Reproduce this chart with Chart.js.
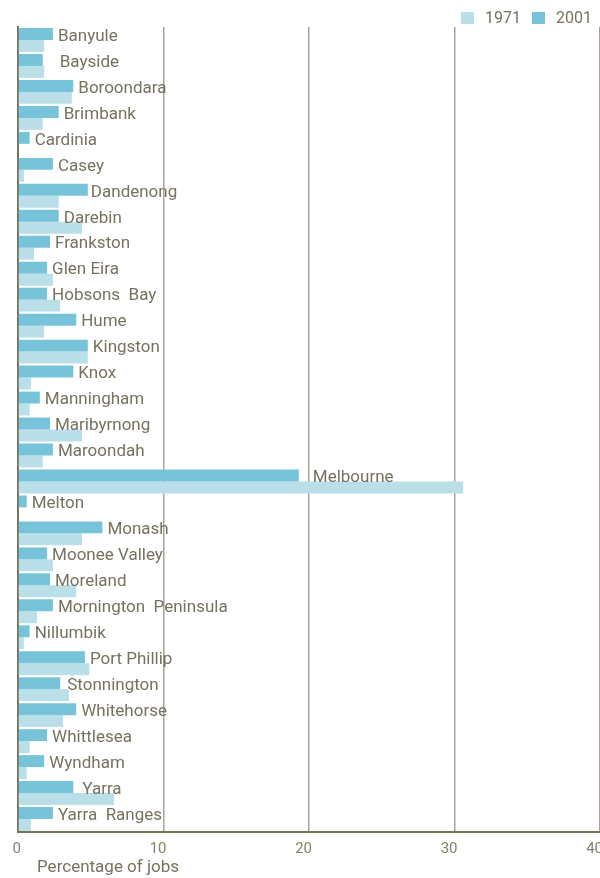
<!DOCTYPE html>
<html>
<head>
<meta charset="utf-8">
<script src="https://cdn.jsdelivr.net/npm/chart.js@4/dist/chart.umd.min.js"></script>
<style>
html,body{margin:0;padding:0;background:#fff;}
#wrap{position:relative;width:600px;height:878px;}
</style>
</head>
<body>
<div id="wrap"><canvas id="c"></canvas></div>
<script>
const categories = ["Banyule","Bayside","Boroondara","Brimbank","Cardinia","Casey","Dandenong","Darebin","Frankston","Glen Eira","Hobsons  Bay","Hume","Kingston","Knox","Manningham","Maribyrnong","Maroondah","Melbourne","Melton","Monash","Moonee Valley","Moreland","Mornington  Peninsula","Nillumbik","Port Phillip","Stonnington","Whitehorse","Whittlesea","Wyndham","Yarra","Yarra  Ranges"];
const values2001 = [2.4,1.7,3.8,2.8,0.8,2.4,4.8,2.8,2.2,2.0,2.0,4.0,4.8,3.8,1.5,2.2,2.4,19.3,0.6,5.8,2.0,2.2,2.4,0.8,4.6,2.9,4.0,2.0,1.8,3.8,2.4];
const values1971 = [1.8,1.8,3.7,1.7,0,0.4,2.8,4.4,1.1,2.4,2.9,1.8,4.8,0.9,0.8,4.4,1.7,30.6,0,4.4,2.4,4.0,1.3,0.4,4.9,3.5,3.1,0.8,0.6,6.6,0.9];
const xTicks = [0,10,20,30,40];
const seriesNames = ["1971","2001"];
const xTitle = "Percentage of jobs";

const TXT = "#76725e";
const FONT = "Roboto";
const C2001 = "#77c4da";
const C1971 = "#bbdfe8";
const labelNudge = {"Bayside": 12, "Melbourne": 9, "Yarra": 4, "Stonnington": 2, "Dandenong": -2};

const labelPlugin = {
  id: "labels",
  afterDatasetsDraw(chart) {
    const ctx = chart.ctx;
    const meta = chart.getDatasetMeta(0);
    const ys = chart.scales.y;
    ctx.save();
    ctx.font = "17px " + FONT;
    ctx.fillStyle = TXT;
    ctx.textBaseline = "middle";
    ctx.textAlign = "left";
    categories.forEach((name, i) => {
      const bar = meta.data[i];
      const x = bar.x + 5 + (labelNudge[name.trim()] || 0);
      const y = ys.getPixelForValue(i) - 3.5;
      ctx.fillText(name, x, y);
    });
    // legend
    ctx.font = "16px " + FONT;
    const items = [{t: seriesNames[0], c: C1971, x: 461}, {t: seriesNames[1], c: C2001, x: 532}];
    items.forEach(it => {
      ctx.fillStyle = it.c;
      ctx.fillRect(it.x, 12, 13, 12);
      ctx.fillStyle = TXT;
      ctx.fillText(it.t, it.x + 24, 18.5);
    });
    // x title
    ctx.font = "17px " + FONT;
    ctx.textBaseline = "alphabetic";
    ctx.fillText(xTitle, 37, 872);
    ctx.restore();
  }
};

new Chart(document.getElementById("c"), {
  type: "bar",
  data: {
    labels: categories,
    datasets: [
      {label: seriesNames[1], data: values2001, backgroundColor: C2001, barPercentage: 1.0, categoryPercentage: 0.92},
      {label: seriesNames[0], data: values1971, backgroundColor: C1971, barPercentage: 1.0, categoryPercentage: 0.92}
    ]
  },
  options: {
    indexAxis: "y",
    responsive: true,
    maintainAspectRatio: false,
    animation: false,
    layout: {padding: {top: 27, left: 0, right: 0, bottom: 0}},
    plugins: {legend: {display: false}, tooltip: {enabled: false}},
    scales: {
      x: {
        min: 0, max: 40,
        afterBuildTicks(s) { s.ticks = xTicks.map(v => ({value: v})); },
        afterFit(s) { s.height = 46; s.paddingLeft = 0; s.paddingRight = 0; },
        grid: {color: "#a8a493", lineWidth: 1.5, drawTicks: false},
        border: {display: true, color: "#77725c", width: 2},
        ticks: {color: "#85816d", font: {family: FONT, size: 15}, padding: 8, align: "end", labelOffset: 3, maxRotation: 0, autoSkip: false}
      },
      y: {
        afterFit(s) { s.width = 18; },
        grid: {display: false, drawTicks: false},
        border: {display: true, color: "#77725c", width: 2},
        ticks: {display: false}
      }
    }
  },
  plugins: [labelPlugin]
});
</script>
</body>
</html>
